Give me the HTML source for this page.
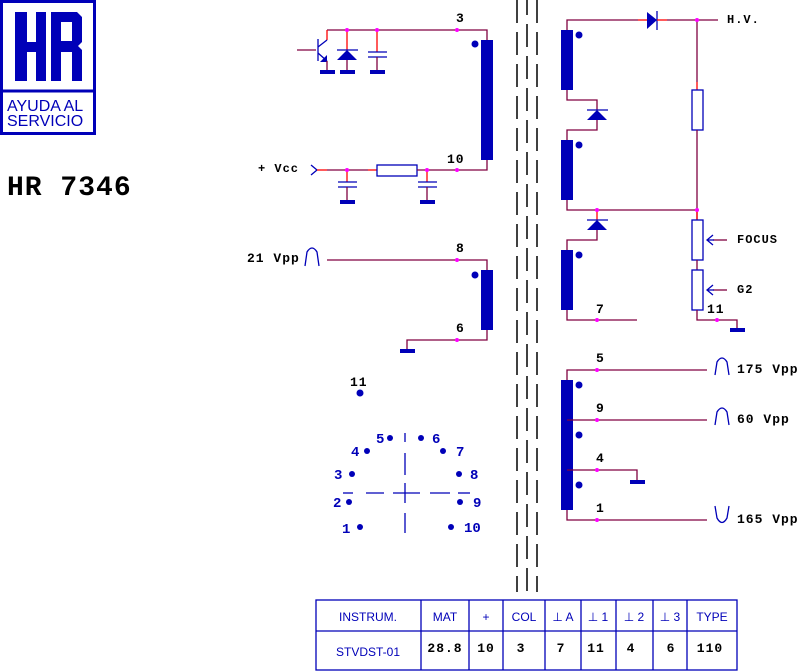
<!DOCTYPE html>
<html><head><meta charset="utf-8"><style>
html,body{margin:0;padding:0;background:#fff;}
svg{display:block;}
.w{stroke:#800040;stroke-width:1.3;fill:none;}
.r{stroke:#ff0000;stroke-width:1.3;fill:none;}
.b{stroke:#0000b8;stroke-width:1.3;fill:none;}
.c{fill:#0000b8;}
.p{fill:#ff00ff;}
.t{font-family:"Liberation Mono",monospace;font-weight:bold;font-size:13px;fill:#000;letter-spacing:1px;}
.bl{font-family:"Liberation Mono",monospace;font-weight:bold;font-size:14px;fill:#0000b8;}
.a{font-family:"Liberation Sans",sans-serif;font-size:12px;fill:#0000b8;}
</style></head><body>
<svg width="802" height="671" viewBox="0 0 802 671" xmlns="http://www.w3.org/2000/svg">
<rect width="802" height="671" fill="#fff"/>
<!-- logo -->
<rect x="1.5" y="1.5" width="93" height="132" fill="none" stroke="#0000b8" stroke-width="3"/>
<line x1="1" y1="91" x2="95" y2="91" stroke="#0000b8" stroke-width="3"/>
<path class="c" d="M15 12h12v30h9v-30h10v69h-10v-29h-9v29h-12z"/>
<path class="c" d="M51 12h26l5 5v25l-4 4l4 4v31h-10v-29h-11v29h-10zM61 22v19h11v-19z" fill-rule="evenodd"/>
<text x="7" y="111" style="font-family:'Liberation Sans',sans-serif;font-size:16px;fill:#0000b8">AYUDA AL</text>
<text x="7" y="126" style="font-family:'Liberation Sans',sans-serif;font-size:16px;fill:#0000b8">SERVICIO</text>
<text x="7" y="195" style="font-family:'Liberation Mono',monospace;font-weight:bold;font-size:28px;fill:#000;letter-spacing:1px">HR 7346</text>

<!-- dashed core -->
<g stroke="#000" stroke-width="1.5" stroke-dasharray="23,9">
<line x1="517" y1="0" x2="517" y2="592" stroke-dashoffset="0"/><line x1="527" y1="0" x2="527" y2="592" stroke-dashoffset="8"/><line x1="537" y1="0" x2="537" y2="592" stroke-dashoffset="0"/>
</g>

<!-- top primary -->
<polyline class="w" points="327,30 487,30 487,40"/>
<line class="r" x1="327" y1="30" x2="327" y2="40"/>
<rect class="c" x="481" y="40" width="12" height="120"/>
<circle class="c" cx="475" cy="44" r="3.5"/>
<text class="t" x="456" y="22">3</text>
<!-- transistor -->
<line class="w" x1="297" y1="50" x2="316" y2="50"/>
<line class="b" x1="318" y1="39" x2="318" y2="61" stroke-width="1.5"/>
<line class="b" x1="318" y1="47" x2="327" y2="40"/>
<line class="b" x1="318" y1="53" x2="327" y2="61"/>
<polygon class="c" points="327,55 327,62 320,62"/>
<line class="w" x1="327" y1="61" x2="327" y2="70"/>
<rect class="c" x="320" y="70" width="15" height="4"/>
<!-- diode -->
<line class="r" x1="347" y1="30" x2="347" y2="50"/>
<line class="b" x1="337" y1="50" x2="358" y2="50"/>
<polygon class="c" points="347,50 337,60 357,60"/>
<line class="w" x1="347" y1="60" x2="347" y2="70"/>
<rect class="c" x="340" y="70" width="15" height="4"/>
<!-- cap -->
<line class="r" x1="377" y1="30" x2="377" y2="52"/>
<line class="b" x1="368" y1="52" x2="387" y2="52"/><line class="b" x1="368" y1="57" x2="387" y2="57"/>
<line class="w" x1="377" y1="57" x2="377" y2="70"/>
<rect class="c" x="370" y="70" width="15" height="4"/>
<circle class="p" cx="347" cy="30" r="2"/><circle class="p" cx="377" cy="30" r="2"/><circle class="p" cx="457" cy="30" r="2"/>

<!-- Vcc line -->
<text class="t" x="258" y="172" style="font-size:12px">+ Vcc</text>
<polyline class="b" points="311,165 317,170 311,175"/>
<line class="r" x1="317" y1="170" x2="327" y2="170"/>
<line class="w" x1="327" y1="170" x2="368" y2="170"/>
<line class="r" x1="368" y1="170" x2="377" y2="170"/>
<rect x="377" y="165" width="40" height="11" fill="none" stroke="#0000b8" stroke-width="1.3"/>
<polyline class="w" points="417,170 487,170 487,160"/>
<line class="r" x1="347" y1="170" x2="347" y2="182"/><line class="r" x1="427" y1="170" x2="427" y2="182"/>
<line class="b" x1="338" y1="182" x2="357" y2="182"/><line class="b" x1="338" y1="187" x2="357" y2="187"/>
<line class="b" x1="418" y1="182" x2="437" y2="182"/><line class="b" x1="418" y1="187" x2="437" y2="187"/>
<line class="w" x1="347" y1="187" x2="347" y2="200"/><line class="w" x1="427" y1="187" x2="427" y2="200"/>
<rect class="c" x="340" y="200" width="15" height="4"/><rect class="c" x="420" y="200" width="15" height="4"/>
<circle class="p" cx="347" cy="170" r="2"/><circle class="p" cx="427" cy="170" r="2"/><circle class="p" cx="457" cy="170" r="2"/>
<text class="t" x="447" y="163">10</text>

<!-- 21 Vpp winding -->
<text class="t" x="247" y="262">21 Vpp</text>
<path class="b" d="M305,266 L307,252 Q312,244 317,252 L319,266"/>
<polyline class="w" points="327,260 487,260 487,270"/>
<rect class="c" x="481" y="270" width="12" height="60"/>
<circle class="c" cx="475" cy="275" r="3.5"/>
<polyline class="w" points="487,330 487,340 407,340 407,350"/>
<rect class="c" x="400" y="349" width="15" height="4"/>
<circle class="p" cx="457" cy="260" r="2"/><circle class="p" cx="457" cy="340" r="2"/>
<text class="t" x="456" y="252">8</text><text class="t" x="456" y="332">6</text>

<!-- pin diagram -->
<text class="t" x="350" y="386">11</text>
<circle class="c" cx="360" cy="393" r="3.5"/>
<g class="c">
<circle cx="390" cy="438" r="3"/><circle cx="421" cy="438" r="3"/><circle cx="367" cy="451" r="3"/><circle cx="443" cy="451" r="3"/>
<circle cx="352" cy="474" r="3"/><circle cx="459" cy="474" r="3"/><circle cx="349" cy="502" r="3"/><circle cx="460" cy="502" r="3"/>
<circle cx="360" cy="527" r="3"/><circle cx="451" cy="527" r="3"/>
</g>
<text class="bl" x="376" y="443">5</text><text class="bl" x="432" y="443">6</text>
<text class="bl" x="351" y="456">4</text><text class="bl" x="456" y="456">7</text>
<text class="bl" x="334" y="479">3</text><text class="bl" x="470" y="479">8</text>
<text class="bl" x="333" y="507">2</text><text class="bl" x="473" y="507">9</text>
<text class="bl" x="342" y="533">1</text><text class="bl" x="464" y="532">10</text>
<g class="b">
<line x1="405" y1="433" x2="405" y2="442"/><line x1="405" y1="453" x2="405" y2="475"/><line x1="405" y1="483" x2="405" y2="503"/><line x1="405" y1="513" x2="405" y2="533"/>
<line x1="343" y1="493" x2="353" y2="493"/><line x1="366" y1="493" x2="384" y2="493"/><line x1="393" y1="493" x2="420" y2="493"/><line x1="430" y1="493" x2="450" y2="493"/><line x1="458" y1="493" x2="470" y2="493"/>
</g>

<!-- secondary right top -->
<polyline class="w" points="567,30 567,20 638,20"/>
<line class="r" x1="638" y1="20" x2="647" y2="20"/>
<polygon class="c" points="647,12 657,20 647,29"/>
<line class="b" x1="657" y1="11" x2="657" y2="30"/>
<line class="r" x1="657" y1="20" x2="667" y2="20"/>
<line class="w" x1="667" y1="20" x2="718" y2="20"/>
<text class="t" x="727" y="23" style="font-size:12px">H.V.</text>
<line class="w" x1="697" y1="20" x2="697" y2="82"/>
<line class="r" x1="697" y1="82" x2="697" y2="90"/>
<rect x="692" y="90" width="11" height="40" fill="none" stroke="#0000b8" stroke-width="1.3"/>
<line class="w" x1="697" y1="130" x2="697" y2="220"/>
<rect class="c" x="561" y="30" width="12" height="60"/>
<rect class="c" x="561" y="140" width="12" height="60"/>
<rect class="c" x="561" y="250" width="12" height="60"/>
<circle class="c" cx="579" cy="35" r="3.5"/><circle class="c" cx="579" cy="145" r="3.5"/><circle class="c" cx="579" cy="255" r="3.5"/>
<polyline class="w" points="567,90 567,100 597,100 597,110"/>
<line class="b" x1="587" y1="110" x2="608" y2="110"/>
<polygon class="c" points="597,110 587,120 607,120"/>
<polyline class="w" points="597,120 597,130 567,130 567,140"/>
<polyline class="w" points="567,200 567,210 697,210"/>
<line class="r" x1="597" y1="210" x2="597" y2="220"/>
<line class="b" x1="587" y1="220" x2="608" y2="220"/>
<polygon class="c" points="597,220 587,230 607,230"/>
<polyline class="w" points="597,230 597,240 567,240 567,250"/>
<polyline class="w" points="567,310 567,320 637,320"/>
<circle class="p" cx="697" cy="20" r="2"/><circle class="p" cx="597" cy="210" r="2"/><circle class="p" cx="697" cy="210" r="2"/><circle class="p" cx="597" cy="320" r="2"/>
<text class="t" x="596" y="313">7</text>
<line class="r" x1="697" y1="212" x2="697" y2="220"/>
<rect x="692" y="220" width="11" height="40" fill="none" stroke="#0000b8" stroke-width="1.3"/>
<line class="w" x1="697" y1="260" x2="697" y2="270"/>
<rect x="692" y="270" width="11" height="40" fill="none" stroke="#0000b8" stroke-width="1.3"/>
<line class="w" x1="713" y1="240" x2="727" y2="240"/><line class="b" x1="707" y1="240" x2="714" y2="240"/>
<polyline class="b" points="713,235 707,240 713,245"/>
<line class="w" x1="713" y1="290" x2="727" y2="290"/><line class="b" x1="707" y1="290" x2="714" y2="290"/>
<polyline class="b" points="713,285 707,290 713,295"/>
<text class="t" x="737" y="243" style="font-size:12px">FOCUS</text>
<text class="t" x="737" y="293" style="font-size:12px">G2</text>
<polyline class="w" points="697,310 697,320 737,320 737,328"/>
<rect class="c" x="730" y="328" width="15" height="4"/>
<circle class="p" cx="717" cy="320" r="2"/>
<text class="t" x="707" y="313">11</text>

<!-- lower secondary -->
<rect class="c" x="561" y="380" width="12" height="130"/>
<circle class="c" cx="579" cy="385" r="3.5"/><circle class="c" cx="579" cy="435" r="3.5"/><circle class="c" cx="579" cy="485" r="3.5"/>
<polyline class="w" points="567,380 567,370 707,370"/>
<line class="w" x1="567" y1="420" x2="707" y2="420"/>
<polyline class="w" points="567,470 637,470 637,480"/>
<rect class="c" x="630" y="480" width="15" height="4"/>
<polyline class="w" points="567,510 567,520 707,520"/>
<circle class="p" cx="597" cy="370" r="2"/><circle class="p" cx="597" cy="420" r="2"/><circle class="p" cx="597" cy="470" r="2"/><circle class="p" cx="597" cy="520" r="2"/>
<text class="t" x="596" y="362">5</text><text class="t" x="596" y="412">9</text><text class="t" x="596" y="462">4</text><text class="t" x="596" y="512">1</text>
<path class="b" d="M715,375 L717,362 Q722,354 727,362 L729,375"/>
<path class="b" d="M715,425 L717,412 Q722,404 727,412 L729,425"/>
<path class="b" d="M715,506 L717,518 Q722,527 727,518 L729,506"/>
<text class="t" x="737" y="373">175 Vpp</text>
<text class="t" x="737" y="423">60 Vpp</text>
<text class="t" x="737" y="523">165 Vpp</text>

<!-- table -->
<g stroke="#0000b8" stroke-width="1.3" fill="none">
<rect x="316" y="600" width="421" height="70"/>
<line x1="316" y1="631" x2="737" y2="631"/>
<line x1="421" y1="600" x2="421" y2="670"/><line x1="469" y1="600" x2="469" y2="670"/><line x1="503" y1="600" x2="503" y2="670"/>
<line x1="545" y1="600" x2="545" y2="670"/><line x1="581" y1="600" x2="581" y2="670"/><line x1="616" y1="600" x2="616" y2="670"/>
<line x1="653" y1="600" x2="653" y2="670"/><line x1="687" y1="600" x2="687" y2="670"/>
</g>
<g class="a" text-anchor="middle">
<text x="368" y="621">INSTRUM.</text><text x="445" y="621">MAT</text><text x="486" y="621">+</text><text x="524" y="621">COL</text>
<text x="563" y="621">⊥ A</text><text x="598" y="621">⊥ 1</text><text x="634" y="621">⊥ 2</text><text x="670" y="621">⊥ 3</text><text x="712" y="621">TYPE</text>
<text x="368" y="656">STVDST-01</text>
</g>
<g class="t" text-anchor="middle">
<text x="445" y="652">28.8</text><text x="486" y="652">10</text><text x="521" y="652">3</text><text x="561" y="652">7</text>
<text x="596" y="652">11</text><text x="631" y="652">4</text><text x="671" y="652">6</text><text x="710" y="652">110</text>
</g>
</svg>
</body></html>
